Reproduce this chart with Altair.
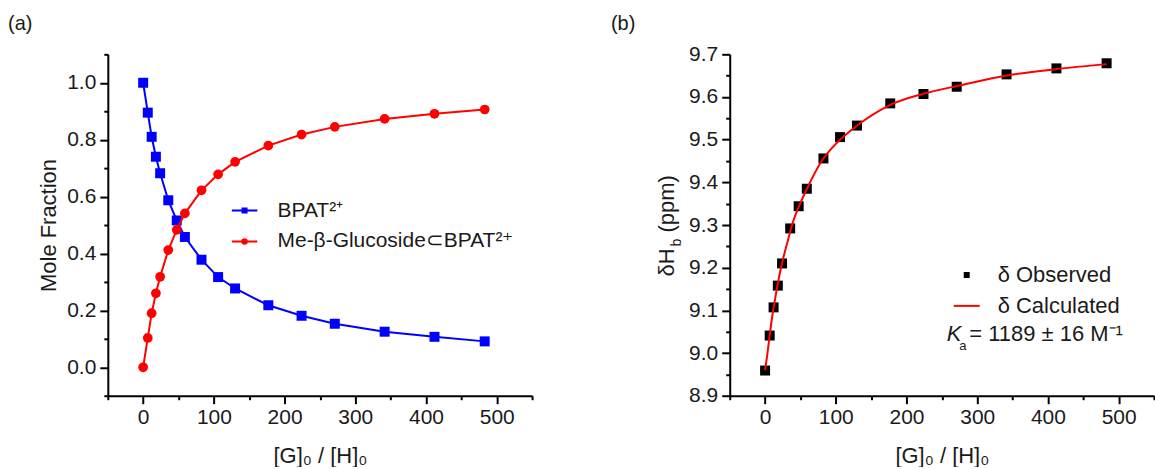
import altair as alt
import pandas as pd

# ---------------- data ----------------
RATIO = [0, 6.5, 12, 18, 24, 35.5, 47.5, 59, 82.5, 106, 130, 177, 224, 271, 341.5, 412, 483]
BPAT = [1.0, 0.895, 0.81, 0.74, 0.682, 0.587, 0.516, 0.458, 0.378, 0.317, 0.277,
        0.218, 0.181, 0.153, 0.125, 0.107, 0.091]
COMPLEX = [0.0, 0.103, 0.19, 0.26, 0.318, 0.412, 0.483, 0.541, 0.622, 0.678, 0.722,
           0.779, 0.818, 0.845, 0.873, 0.891, 0.906]
SERIES_A = ["BPAT²⁺", "Me-β-Glucoside⊂BPAT²⁺"]
COLORS_A = ["#0000ff", "#ff0000"]

OBSERVED = [8.959, 9.041, 9.107, 9.158, 9.210, 9.292, 9.344, 9.385, 9.456, 9.506, 9.533,
            9.585, 9.607, 9.624, 9.653, 9.667, 9.679]
CALC_X = [0, 3, 6, 10, 15, 20, 25, 30, 40, 50, 60, 80, 100, 130, 175, 225, 275, 340, 410, 483]
CALC_Y = [8.960, 8.995, 9.035, 9.085, 9.135, 9.180, 9.218, 9.250, 9.310, 9.352, 9.388,
          9.450, 9.490, 9.533, 9.580, 9.608, 9.627, 9.650, 9.665, 9.677]
SERIES_B = ["δ Observed", "δ Calculated"]
COLORS_B = ["#000000", "#ff0000"]

X_TICKS = list(range(-50, 551, 50))
Y_TICKS_A = [round(-0.1 + 0.1 * i, 1) for i in range(13)]
Y_TICKS_B = [round(8.9 + 0.05 * i, 2) for i in range(17)]

FONT = "Liberation Sans"
TEXT = "#1a1a1a"
W, H = 425, 342

# ---------------- axes ----------------
X_MAJOR = "datum.value % 100 == 0"
x_axis = alt.Axis(
    values=X_TICKS,
    labelExpr=f"{X_MAJOR} ? format(datum.value, 'd') : ''",
    tickSize={"condition": {"test": X_MAJOR, "value": 8}, "value": 4},
    labelPadding=3, titlePadding=18, title="[G]₀ / [H]₀",
)
x_scale = alt.Scale(domain=[-50, 550], nice=False, zero=False)

YA_MAJOR = "abs(round(datum.value * 10)) % 2 == 0"
y_axis_a = alt.Axis(
    values=Y_TICKS_A,
    labelExpr=f"{YA_MAJOR} ? format(datum.value, '.1f') : ''",
    tickSize={"condition": {"test": YA_MAJOR, "value": 8}, "value": 4},
    labelPadding=4, titlePadding=6, title="Mole Fraction",
)
y_scale_a = alt.Scale(domain=[-0.1, 1.1], nice=False, zero=False)

YB_MAJOR = "round(datum.value * 20) % 2 == 0"
y_axis_b = alt.Axis(
    values=Y_TICKS_B,
    labelExpr=f"{YB_MAJOR} ? format(datum.value, '.1f') : ''",
    tickSize={"condition": {"test": YB_MAJOR, "value": 8}, "value": 4},
    labelPadding=4, title=None,
)
y_scale_b = alt.Scale(domain=[8.9, 9.7], nice=False, zero=False)


def text_mark(txt, x, y, size, **kw):
    return alt.Chart(pd.DataFrame({"t": [txt]})).mark_text(
        align="left", baseline="middle", font=FONT, fontSize=size, color=TEXT, **kw
    ).encode(x=alt.value(x), y=alt.value(y), text="t:N")


# ---------------- panel (a) ----------------
df_a = pd.DataFrame({"ratio": RATIO, "bpat": BPAT, "complex": COMPLEX})
xa = alt.X("ratio:Q", scale=x_scale, axis=x_axis)
ya1 = alt.Y("bpat:Q", scale=y_scale_a, axis=y_axis_a)
ya2 = alt.Y("complex:Q", scale=y_scale_a, axis=y_axis_a)

base_a = alt.Chart(df_a)
blue_line = base_a.mark_line(color=COLORS_A[0], strokeWidth=2).encode(x=xa, y=ya1)
blue_pts = base_a.mark_point(shape="square", filled=True, size=100, color=COLORS_A[0],
                             opacity=1).encode(x=xa, y=ya1)
red_line = base_a.mark_line(color=COLORS_A[1], strokeWidth=2).encode(x=xa, y=ya2)
red_pts = base_a.mark_point(shape="circle", filled=True, size=95, color=COLORS_A[1],
                            opacity=1).encode(x=xa, y=ya2)

PATH_SQ_LINE = "M-2.55,0H2.55M-0.4,-0.4H0.4V0.4H-0.4Z"
PATH_CI_LINE = "M-2.55,0H2.55M-0.45,0A0.45,0.45,0,1,1,0.45,0A0.45,0.45,0,1,1,-0.45,0Z"
leg_a = alt.Legend(title=None, orient="none", legendX=126.5, legendY=146, padding=0,
                   labelOffset=22.5, rowPadding=9, labelFontSize=21, labelFont=FONT,
                   labelColor=TEXT, labelLimit=600, symbolStrokeWidth=2)
legend_a = alt.Chart(pd.DataFrame({"series": SERIES_A})).transform_filter("false").mark_point(
    filled=True, size=400, strokeWidth=2, opacity=1
).encode(
    x=alt.value(0), y=alt.value(0),
    fill=alt.Fill("series:N", scale=alt.Scale(domain=SERIES_A, range=COLORS_A), legend=leg_a),
    stroke=alt.Stroke("series:N", scale=alt.Scale(domain=SERIES_A, range=COLORS_A), legend=leg_a),
    shape=alt.Shape("series:N", scale=alt.Scale(domain=SERIES_A, range=[PATH_SQ_LINE, PATH_CI_LINE]),
                    legend=leg_a),
)

panel_a = alt.layer(
    blue_line, blue_pts, red_line, red_pts, legend_a,
    text_mark("(a)", -100, -30, 20),
).properties(width=W, height=H)

# ---------------- panel (b) ----------------
df_obs = pd.DataFrame({"ratio": RATIO, "delta": OBSERVED})
df_calc = pd.DataFrame({"ratio": CALC_X, "delta": CALC_Y})
xb = alt.X("ratio:Q", scale=x_scale, axis=x_axis)
yb = alt.Y("delta:Q", scale=y_scale_b, axis=y_axis_b)

obs_pts = alt.Chart(df_obs).mark_point(shape="square", filled=True, size=100, color="#000000",
                                       opacity=1).encode(x=xb, y=yb)
calc_line = alt.Chart(df_calc).mark_line(color="#ff0000", strokeWidth=2,
                                         interpolate="monotone").encode(x=xb, y=yb)

PATH_SQ = "M-0.4,-0.4H0.4V0.4H-0.4Z"
PATH_LINE = "M-2.6,0H2.6"
leg_b = alt.Legend(title=None, orient="none", legendX=226.4, legendY=210, padding=0,
                   labelOffset=20, rowPadding=9, labelFontSize=22, labelFont=FONT,
                   labelColor=TEXT, labelLimit=600, symbolStrokeWidth=2)
legend_b = alt.Chart(pd.DataFrame({"series": SERIES_B})).transform_filter("false").mark_point(
    filled=True, size=400, strokeWidth=2, opacity=1
).encode(
    x=alt.value(0), y=alt.value(0),
    fill=alt.Fill("series:N", scale=alt.Scale(domain=SERIES_B, range=COLORS_B), legend=leg_b),
    stroke=alt.Stroke("series:N", scale=alt.Scale(domain=SERIES_B, range=COLORS_B), legend=leg_b),
    shape=alt.Shape("series:N", scale=alt.Scale(domain=SERIES_B, range=[PATH_SQ, PATH_LINE]),
                    legend=leg_b),
)

panel_b = alt.layer(
    obs_pts, calc_line, legend_b,
    text_mark("(b)", -119, -30, 20),
    # y-axis title δH_b (ppm)
    text_mark("δH", -63, 222.5, 22, angle=270),
    text_mark("b", -53, 192.5, 14, angle=270),
    text_mark("(ppm)", -63, 178.5, 22, angle=270),
    # K_a annotation
    text_mark("K", 217.4, 280.5, 22, fontStyle="italic"),
    text_mark("a", 230, 292, 13),
    text_mark("= 1189 ± 16 M⁻¹", 240, 280.5, 22),
).properties(width=W, height=H)

chart = alt.hconcat(panel_a, panel_b, spacing=78).resolve_scale(
    fill="independent", stroke="independent", shape="independent"
).properties(
    padding={"left": 8, "top": 14, "right": 0, "bottom": 0}
).configure_view(stroke=None).configure_axis(
    grid=False, domainColor="#000000", domainWidth=2, tickColor="#000000", tickWidth=2,
    labelFont=FONT, labelFontSize=21, labelColor=TEXT, labelFlush=False, labelOverlap=False,
    titleFont=FONT, titleFontSize=22, titleFontWeight="normal", titleColor=TEXT,
)

chart.save("out.html", embed_options={"renderer": "svg", "actions": False})
